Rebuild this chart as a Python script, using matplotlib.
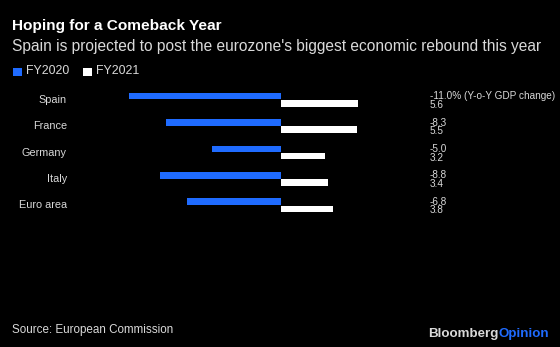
import matplotlib
import matplotlib.pyplot as plt
import matplotlib.transforms as mtransforms
import numpy as np

matplotlib.use("Agg")

categories = ["Spain", "France", "Germany", "Italy", "Euro area"]
fy2020 = [-11.0, -8.3, -5.0, -8.8, -6.8]
fy2021 = [5.6, 5.5, 3.2, 3.4, 3.8]
labels_2020 = ["-11.0% (Y-o-Y GDP change)", "-8.3", "-5.0", "-8.8", "-6.8"]
labels_2021 = ["5.6", "5.5", "3.2", "3.4", "3.8"]

BG = "#000000"
BLUE = "#1F6BFF"
WHITE = "#FFFFFF"
GREY = "#D9D9D9"
FONT = "Liberation Sans"

W, H = 560, 347
fig = plt.figure(figsize=(W / 100, H / 100), dpi=100, facecolor=BG)
ax = fig.add_axes([0, 0, 1, 1], facecolor=BG)

# pixel geometry of the reference: zero line at x=281, 13.8 px per point
zero_px, px_per = 281, 13.8
row0_px, row_px = 99.7, 26.4
ax.set_xlim(-zero_px / px_per, (W - zero_px) / px_per)
ax.set_ylim((H - row0_px) / row_px, -row0_px / row_px)
ax.axis("off")

y = np.arange(len(categories))
bh = 0.25
off = 0.135
ax.barh(y - off, fy2020, height=bh, color=BLUE, linewidth=0)
ax.barh(y + off, fy2021, height=bh, color=WHITE, linewidth=0)

blend = mtransforms.blended_transform_factory(fig.transFigure, ax.transData)
for i, name in enumerate(categories):
    ax.text(67 / W, y[i], name, transform=blend, ha="right", va="center",
            color=GREY, fontsize=7.8, family=FONT)
    ax.text(430 / W, y[i] - off + 0.0, labels_2020[i], transform=blend,
            ha="left", va="center", color=GREY, fontsize=7.2, family=FONT)
    ax.text(430 / W, y[i] + off + 0.06, labels_2021[i], transform=blend,
            ha="left", va="center", color=GREY, fontsize=7.2, family=FONT)


def ftext(x, yy, s, **kw):
    fig.text(x / W, 1 - yy / H, s, family=FONT, **kw)


ftext(12, 26, "Hoping for a Comeback Year", color=WHITE, fontsize=11.1,
      fontweight="bold", va="center")
ftext(12, 46, "Spain is projected to post the eurozone's biggest economic rebound this year",
      color=GREY, fontsize=11.2, va="center")

# legend
for sx, tx, col, lab in [(13, 26, BLUE, "FY2020"), (83, 96, WHITE, "FY2021")]:
    fig.patches.append(plt.Rectangle((sx / W, 1 - 76 / H), 8.5 / W, 8.5 / H,
                                     transform=fig.transFigure, color=col, linewidth=0))
    ftext(tx, 71.5, lab, color=GREY, fontsize=8.9, va="center")

ftext(12, 330, "Source: European Commission", color=GREY, fontsize=8.4, va="center")
t = fig.text(428 / W, 1 - 334 / H, "Bloomberg", family=FONT, color=GREY,
             fontsize=9.6, fontweight="bold", va="center")
fig.canvas.draw()
bb = t.get_window_extent()
fig.text(bb.x1 / W, 1 - 334 / H, "Opinion", family=FONT, color=BLUE,
         fontsize=9.6, fontweight="bold", va="center")

fig.savefig("out.png", dpi=100, facecolor=BG)
